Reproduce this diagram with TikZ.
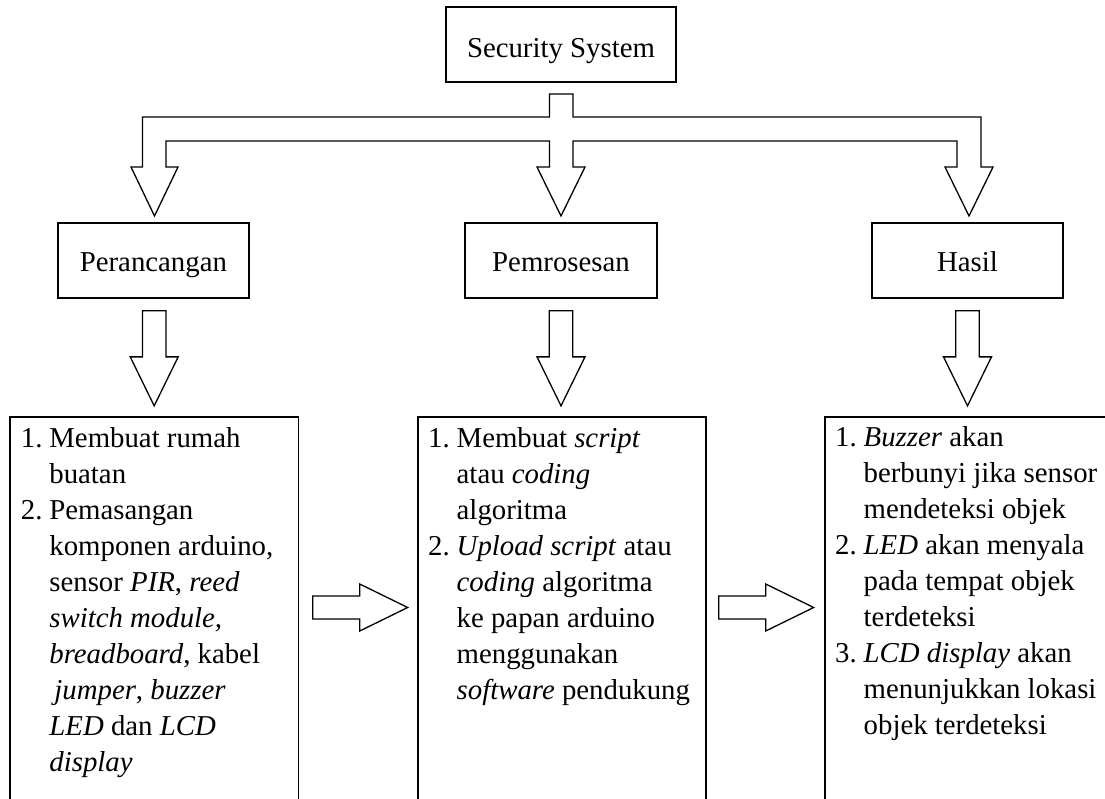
\documentclass[tikz,border=0pt]{standalone}
\usepackage{fontspec}
\setmainfont{Liberation Serif}
\usetikzlibrary{calc}
\newcommand{\itm}[1]{\makebox[28.5pt][l]{#1}}
\newcommand{\ind}{\hspace*{28.5pt}}
\begin{document}
\begin{tikzpicture}[x=1pt,y=-1pt,
  txt/.style={font=\fontsize{28.8}{36}\selectfont},
  titlebox/.style={draw, line width=1.7pt, inner sep=0pt, txt},
  listbox/.style={draw, line width=1.7pt, inner sep=0pt, anchor=north west, minimum height=430pt},
  listtext/.style={inner sep=0pt, anchor=base west, txt},
  blk/.style={draw, line width=1.3pt, line join=miter, fill=white},
  downarr/.pic={\draw[blk] (-11.75,0) -- (11.75,0) -- (11.75,46) -- (24,46) -- (0,95) -- (-24,46) -- (-11.75,46) -- cycle;},
  rightarr/.pic={\draw[blk] (0,-11.5) -- (47,-11.5) -- (47,-23.5) -- (95,0) -- (47,23.5) -- (47,11.5) -- (0,11.5) -- cycle;}
]
\useasboundingbox (0,0) rectangle (1105,799);
\clip (0,0) rectangle (1105,799);

% title
\node[titlebox, minimum width=230pt, minimum height=75pt, text height=30pt, text depth=4pt] (sec) at (561,44.2) {Security System};

% second row
\foreach \n/\x/\t in {p1/153.4/Perancangan, p2/561/Pemrosesan, p3/967.5/Hasil}{
  \node[titlebox, minimum width=191.5pt, minimum height=75pt, text height=29pt, text depth=6pt] (\n) at (\x,260.5) {\t};
}

% branching block arrow
\draw[blk] (549.5,94) -- (573,94) -- (573,117) -- (981,117) -- (981,167) -- (993,167) -- (969,216)
  -- (945,167) -- (957,167) -- (957,141) -- (573,141) -- (573,167) -- (585,167) -- (561,216)
  -- (537,167) -- (549.5,167) -- (549.5,141) -- (166,141) -- (166,167) -- (178,167) -- (154.5,216)
  -- (131,167) -- (142.5,167) -- (142.5,117) -- (549.5,117) -- cycle;

% down arrows
\pic at ($(p1.south)+(0.8,12)$) {downarr};
\pic at ($(p2.south)+(0,12)$) {downarr};
\pic at ($(p3.south)+(0,12)$) {downarr};

% bottom boxes
\node[listbox, minimum width=288.5pt] (b1) at (9,416) {};
\node[listbox, minimum width=288pt] (b2) at (417,416) {};
\node[listbox, minimum width=300pt] (b3) at (824,416) {};

\node[listtext] (t1) at ($(b1.north west)+(11.7,31)$) {\begin{tabular}[t]{@{}l@{}}
\itm{1.}Membuat rumah\\
\ind buatan\\
\itm{2.}Pemasangan\\
\ind komponen arduino,\\
\ind sensor \textit{PIR}, \textit{reed}\\
\ind \textit{switch module,}\\
\ind \textit{breadboard}, kabel\\
\ind\hspace{5pt}\textit{jumper}, \textit{buzzer}\\
\ind \textit{LED} dan \textit{LCD}\\
\ind \textit{display}
\end{tabular}};

\node[listtext] (t2) at ($(b2.north west)+(11,31)$) {\begin{tabular}[t]{@{}l@{}}
\itm{1.}Membuat \textit{script}\\
\ind atau \textit{coding}\\
\ind algoritma\\
\itm{2.}\textit{Upload script} atau\\
\ind \textit{coding} algoritma\\
\ind ke papan arduino\\
\ind menggunakan\\
\ind \textit{software} pendukung
\end{tabular}};

\node[listtext] (t3) at ($(b3.north west)+(11,30)$) {\begin{tabular}[t]{@{}l@{}}
\itm{1.}\textit{Buzzer} akan\\
\ind berbunyi jika sensor\\
\ind mendeteksi objek\\
\itm{2.}\textit{LED} akan menyala\\
\ind pada tempat objek\\
\ind terdeteksi\\
\itm{3.}\textit{LCD display} akan\\
\ind menunjukkan lokasi\\
\ind objek terdeteksi
\end{tabular}};

% right arrows
\pic at ($(b1.north east)+(13.5,191.5)$) {rightarr};
\pic at ($(b2.north east)+(12,191.5)$) {rightarr};
\end{tikzpicture}
\end{document}
